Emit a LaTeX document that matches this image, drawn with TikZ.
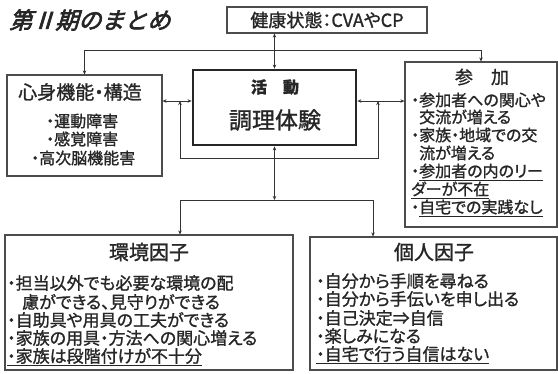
\documentclass[tikz,border=0pt]{standalone}
\usepackage{fontspec}
\setmainfont[RawFeature=+palt,FakeBold=1.2]{Noto Sans CJK JP}
\newfontfamily\titlefont[FakeSlant=0.3,FakeBold=3]{Noto Sans CJK JP}
\usetikzlibrary{arrows.meta}
\newcommand\myfs[1]{\fontsize{#1}{#1}\selectfont}
\tikzset{
 box/.style={draw=black!70, line width=1.1pt, fill=white, inner sep=0, rectangle},
 actbox/.style={draw=black!85, line width=2.8pt, fill=white, inner sep=0, rectangle},
 txt/.style={inner sep=0, text=black!85},
 conn/.style={draw=black!80, line width=0.9pt},
 tip/.style={-{Stealth[length=4pt,width=3.5pt]}},
 tips/.style={{Stealth[length=4pt,width=3.5pt]}-{Stealth[length=4pt,width=3.5pt]}},
}
\begin{document}
\begin{tikzpicture}[x=1pt,y=-1pt]
\useasboundingbox (0,0) rectangle (558,373);
\fill[white] (0,0) rectangle (558,373);
% title
\node[txt, anchor=west, font=\titlefont\myfs{23}] (title) at (9,20) {第Ⅱ期のまとめ};
% boxes
\node[box, minimum width=200pt, minimum height=26pt, font=\myfs{18}, text=black!85] (health) at (327,20) {健康状態：CVAやCP};
\node[actbox, minimum width=163pt, minimum height=75pt] (act) at (274.5,107.5) {};
\node[box, minimum width=155pt, minimum height=101pt] (body) at (84.5,125.5) {};
\node[box, minimum width=152pt, minimum height=165pt] (part) at (481,144.5) {};
\node[box, minimum width=288pt, minimum height=135pt] (env) at (149,302.5) {};
\node[box, minimum width=247pt, minimum height=133pt] (pers) at (433.5,303.5) {};
% activity texts
\node[txt, font=\myfs{16}\bfseries] (actT) at (275,87) {活\hspace{1em}動};
\node[txt, font=\myfs{23}] (actS) at (275,120) {調理体験};
% body texts
\node[txt, font=\myfs{19}] (bodyT) at (80,92) {心身機能・構造};
\node[txt, anchor=west, font=\myfs{16}] (body1) at (46,121) {・運動障害};
\node[txt, anchor=west, font=\myfs{16}] (body2) at (46,139) {・感覚障害};
\node[txt, anchor=west, font=\myfs{16}] (body3) at (31,158) {・高次脳機能害};
% participation texts
\node[txt, font=\myfs{18}] (partT) at (482,77) {参\hspace{1em}加};
\node[txt, anchor=west, font=\myfs{16}] (part1) at (411,100) {・参加者への関心や};
\node[txt, anchor=west, font=\myfs{16}] (part2) at (411,117) {\phantom{・}交流が増える};
\node[txt, anchor=west, font=\myfs{16}] (part3) at (411,135) {・家族・地域での交};
\node[txt, anchor=west, font=\myfs{16}] (part4) at (411,153) {\phantom{・}流が増える};
\node[txt, anchor=west, font=\myfs{16}] (part5) at (411,172) {・\underline{参加者の内のリー}};
\node[txt, anchor=west, font=\myfs{16}] (part6) at (411,190) {\underline{ダーが不在}};
\node[txt, anchor=west, font=\myfs{16}] (part7) at (411,208) {・\underline{自宅での実践なし}};
% environment texts
\node[txt, font=\myfs{20}] (envT) at (149,252) {環境因子};
\node[txt, anchor=west, font=\myfs{17}] (env1) at (7,283) {・担当以外でも必要な環境の配};
\node[txt, anchor=west, font=\myfs{17}] (env2) at (7,302) {\hspace{15pt}慮ができる、見守りができる};
\node[txt, anchor=west, font=\myfs{17}] (env3) at (7,320) {・自助具や用具の工夫ができる};
\node[txt, anchor=west, font=\myfs{17}] (env4) at (7,338) {・家族の用具・方法への関心増える};
\node[txt, anchor=west, font=\myfs{17}] (env5) at (7,357) {\underline{・家族は段階付けが不十分}};
% personal texts
\node[txt, font=\myfs{20}] (persT) at (434,252) {個人因子};
\node[txt, anchor=west, font=\myfs{17}] (pers1) at (316,281) {・自分から手順を尋ねる};
\node[txt, anchor=west, font=\myfs{17}] (pers2) at (316,299) {・自分から手伝いを申し出る};
\node[txt, anchor=west, font=\myfs{17}] (pers3) at (316,318) {・自己決定⇒自信};
\node[txt, anchor=west, font=\myfs{17}] (pers4) at (316,336) {・楽しみになる};
\node[txt, anchor=west, font=\myfs{17}] (pers5) at (316,355) {\underline{・自宅で行う自信はない}};
% connectors
\coordinate (hy) at (0,50);
\draw[conn,tips] (body.north) -- (body.north |- hy) -- (part.north |- hy) -- (part.north);
\draw[conn,tips] (health.south -| act.north) -- (act.north);
\coordinate (ly) at (0,101);
\draw[conn,tips] (body.east |- ly) -- (act.west |- ly);
\draw[conn,tips] (act.east |- ly) -- (part.west |- ly);
\coordinate (j1) at (180,101);
\coordinate (j2) at (378,101);
\draw[conn,tips] (j1) -- ++(0,57) -| (j2);
\coordinate (by) at (0,200);
\draw[conn,tips] (act.south) -- (act.south |- by);
\coordinate (e1) at (180,200);
\coordinate (p1) at (373,200);
\draw[conn] (e1) -- (p1);
\draw[conn,tip] (e1) -- (e1 |- env.north);
\draw[conn,tip] (p1) -- (p1 |- pers.north);
\end{tikzpicture}
\end{document}
